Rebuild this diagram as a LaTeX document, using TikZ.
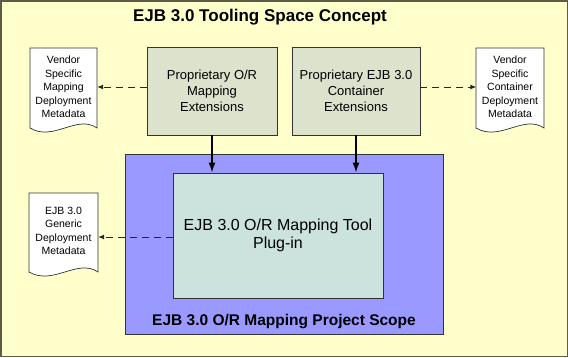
\documentclass[tikz,border=0pt]{standalone}
\usepackage{fontspec}
\setmainfont{Liberation Sans}
\usetikzlibrary{arrows.meta}
\definecolor{bgyellow}{HTML}{FFFFCC}
\definecolor{framecol}{HTML}{5C5C48}
\definecolor{extgray}{HTML}{DDE2CD}
\definecolor{scopeblue}{HTML}{9999FF}
\definecolor{toolcol}{HTML}{CCE2DD}
\definecolor{edgecol}{HTML}{333333}
\newcommand\docshape[4]{\draw[docline] (#1,#2) -- (#3,#2) -- (#3,#4) .. controls ({#3-0.3*(#3-#1)},{#4-14}) and ({#1+0.35*(#3-#1)},{#4+14}) .. (#1,#4) -- cycle;}
\begin{document}
\begin{tikzpicture}[x=1pt,y=-1pt,
  docline/.style={draw=edgecol,line width=0.7pt,fill=white},
  doctext/.style={align=center,font=\fontsize{10.5}{13.5}\selectfont,minimum width=67pt,minimum height=60pt,inner sep=0pt},
  extbox/.style={draw=edgecol,line width=0.8pt,fill=extgray,align=center,font=\fontsize{13}{16}\selectfont,minimum width=130pt,minimum height=88pt,inner sep=0pt},
  dasharrow/.style={draw=black!85,line width=1pt,dash pattern=on 7pt off 5pt,-{Latex[length=6pt,width=5pt]}},
  solidarrow/.style={draw=black,line width=1.4pt,-{Latex[length=10pt,width=7pt]}}]
\useasboundingbox (0,0) rectangle (568,357);
\fill[bgyellow] (0,0) rectangle (568,357);
\draw[framecol,line width=1.5pt] (0.75,0.75) rectangle (567.25,356.25);
\node[font=\bfseries\fontsize{17}{20}\selectfont] (title) at (260,17) {EJB 3.0 Tooling Space Concept};
% documents
\docshape{30}{48}{97}{128}
\docshape{476}{48}{544}{128}
\docshape{29}{193}{98}{272}
\node[doctext] (docmap) at (63.5,87) {Vendor\\Specific\\Mapping\\Deployment\\Metadata};
\node[doctext] (doccont) at (510,87) {Vendor\\Specific\\Container\\Deployment\\Metadata};
\node[doctext,minimum width=69pt] (docgen) at (63.5,231) {EJB 3.0\\Generic\\Deployment\\Metadata};
% extension boxes
\node[extbox] (orext) at (212,91) {Proprietary O/R\\Mapping\\Extensions};
\node[extbox,minimum width=128pt] (ejbext) at (356,91) {Proprietary EJB 3.0\\Container\\Extensions};
% scope
\node[draw=edgecol,line width=0.8pt,fill=scopeblue,minimum width=318pt,minimum height=180pt,inner sep=0pt] (scope) at (284,244) {};
\node[font=\bfseries\fontsize{15.5}{18}\selectfont] (scopelabel) at (284,322) {EJB 3.0 O/R Mapping Project Scope};
\node[draw=edgecol,line width=0.8pt,fill=toolcol,minimum width=210pt,minimum height=125pt,inner sep=0pt,align=center,font=\fontsize{16}{18}\selectfont] (tool) at (278,235.5) {EJB 3.0 O/R Mapping Tool\\Plug-in};
% connectors
\draw[dasharrow] (orext.west |- docmap.east) -- (docmap.east);
\draw[dasharrow] (ejbext.east |- doccont.west) -- (doccont.west);
\draw[dasharrow] (tool.west |- 0,237) -- (docgen.east |- 0,237);
\draw[solidarrow] (orext.south) -- (orext.south |- tool.north);
\draw[solidarrow] (ejbext.south) -- (ejbext.south |- tool.north);
\end{tikzpicture}
\end{document}
